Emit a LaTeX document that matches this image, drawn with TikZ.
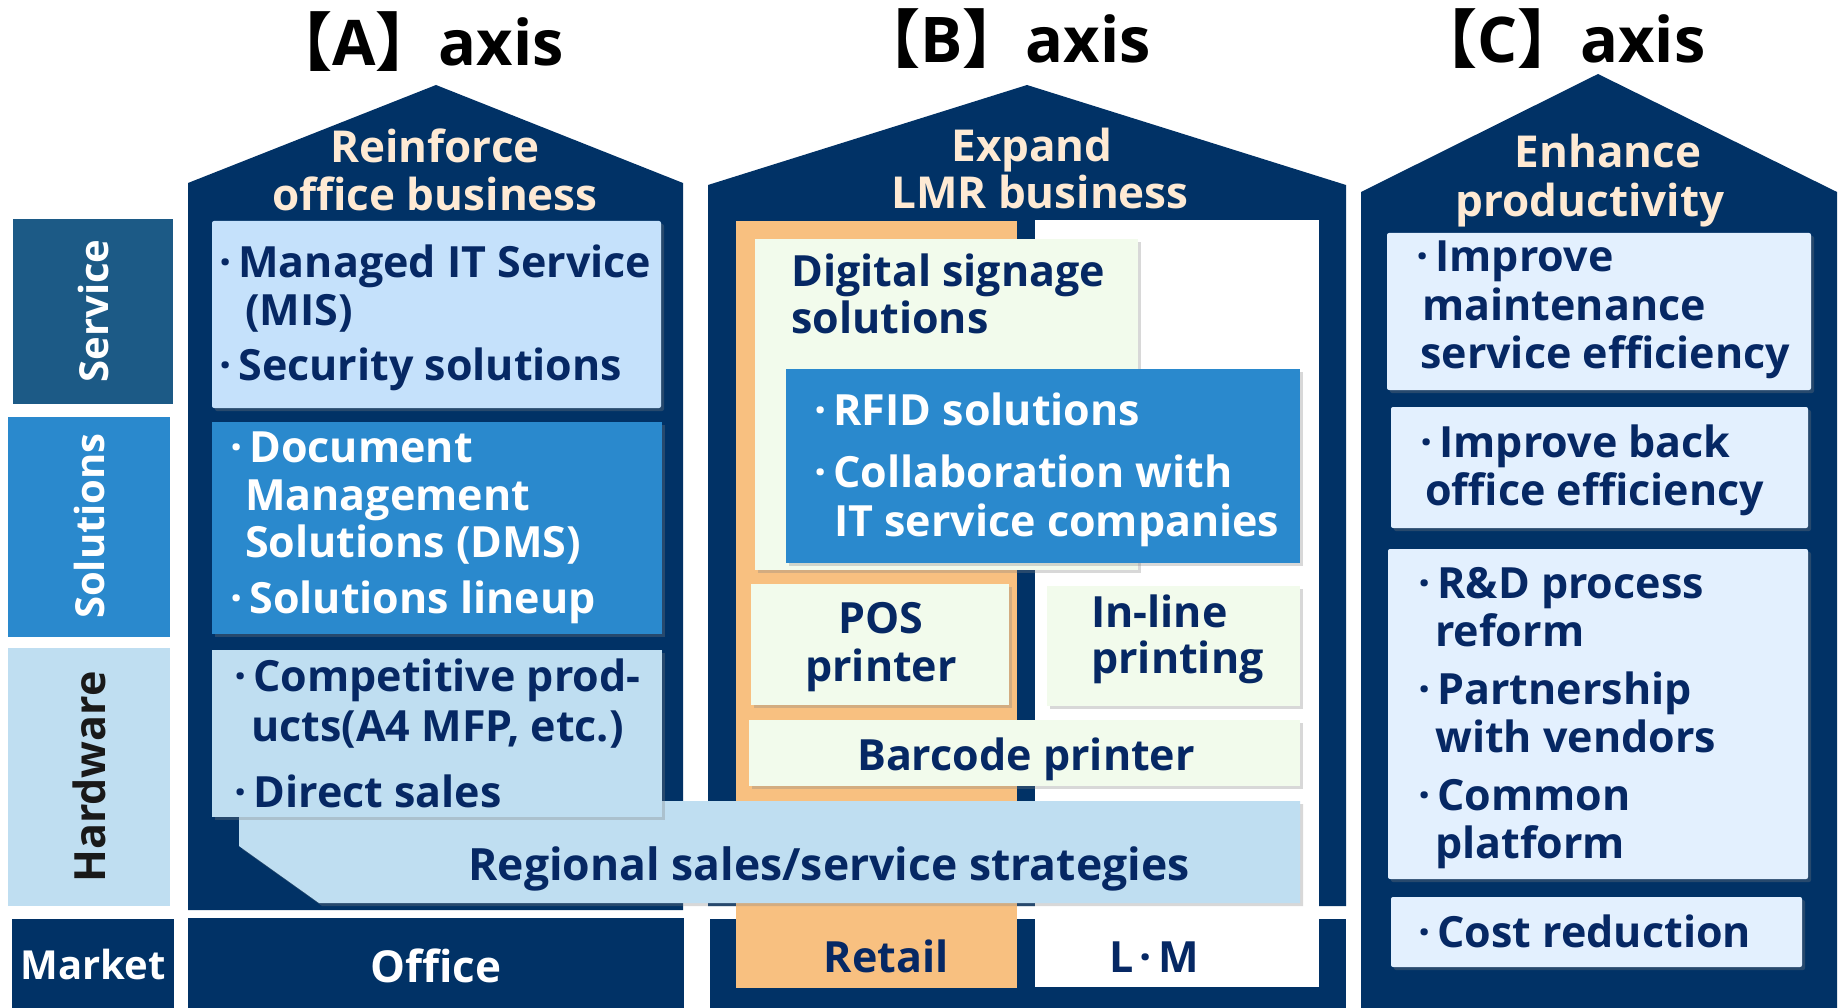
\documentclass[tikz,border=0pt]{standalone}
\usepackage{fontspec}
\setmainfont{Open Sans}
\newfontfamily\cjk{Noto Sans CJK JP}
\usetikzlibrary{shadows}
\definecolor{navy}{RGB}{1,50,102}
\definecolor{cream}{RGB}{254,234,212}
\definecolor{svc}{RGB}{28,90,134}
\definecolor{sol}{RGB}{42,137,205}
\definecolor{hw}{RGB}{191,222,241}
\definecolor{mis}{RGB}{197,225,251}
\definecolor{txn}{RGB}{6,40,100}
\definecolor{orng}{RGB}{248,192,128}
\definecolor{mint}{RGB}{242,251,236}
\definecolor{pale}{RGB}{227,240,254}
\newcommand\dt{·\kern7pt}
\newcommand\brk[1]{{\cjk\bfseries #1}}
\newcommand\ttlx[1]{\brk{【}#1\brk{】}axis}
\begin{document}
\begin{tikzpicture}[x=1pt,y=-1pt,
  shbox/.style={drop shadow={shadow xshift=3pt,shadow yshift=-3pt,opacity=0.3}},
  txt/.style={inner sep=0pt,font=\bfseries\fontsize{43}{50}\selectfont,text=txn,anchor=base west},
  txc/.style={txt,anchor=base},
  txw/.style={txt,text=white},
  hdr/.style={inner sep=0pt,font=\bfseries\fontsize{44}{50}\selectfont,text=cream,anchor=base},
  lab/.style={inner sep=0pt,font=\bfseries\fontsize{40}{48}\selectfont,rotate=90},
  ttl/.style={inner sep=0pt,font=\bfseries\fontsize{63}{70}\selectfont,anchor=base west}]
\useasboundingbox (0,0) rectangle (1841,1008);
\fill[white] (0,0) rectangle (1841,1008);

% titles
\node[ttl] (tA) at (269,66) {\ttlx{A}};
\node[ttl] (tB) at (857,63) {\ttlx{B}};
\node[ttl] (tC) at (1414,63) {\ttlx{C}};

% houses
\fill[navy] (188,910) -- (188,183) -- (436,85) -- (683,183) -- (683,910) -- cycle;
\fill[navy] (188,918) rectangle (684,1008);
\fill[navy] (708,906) -- (708,185) -- (1027,85) -- (1346,185) -- (1346,906) -- cycle;
\fill[navy] (710,919) rectangle (1346,1008);
\fill[orng] (736,221) rectangle (1017,988);
\fill[white] (1035,220) rectangle (1319,987);
\fill[navy] (1361,1008) -- (1361,192) -- (1598,74) -- (1837,192) -- (1837,1008) -- cycle;

% left labels
\fill[svc] (13,219) rectangle (173,404);
\fill[sol] (8,417) rectangle (170,637);
\fill[hw] (8,648) rectangle (170,906);
\fill[navy] (12,919) rectangle (174,1008);
\node[lab,text=white] (lsvc) at (93,311) {Service};
\node[lab,text=white] (lsol) at (89,526) {Solutions};
\node[lab,text=black!90,font=\bfseries\fontsize{43}{48}\selectfont] (lhw) at (89,777) {Hardware};
\node[txc,text=white,font=\bfseries\fontsize{40}{48}\selectfont] (lmk) at (93,979) {Market};

% roof headings
\node[hdr] (hA1) at (435,163) {Reinforce};
\node[hdr] (hA2) at (435,211) {office business};
\node[hdr] (hB1) at (1032,162) {Expand};
\node[hdr] (hB2) at (1040,209) {LMR business};
\node[hdr] (hC1) at (1608,168) {Enhance};
\node[hdr] (hC2) at (1590,217) {productivity};

% B column boxes
\fill[mint,shbox] (755,239) rectangle (1138,570);
\fill[sol,shbox] (786,369) rectangle (1300,563);
\fill[mint,shbox] (751,584) rectangle (1009,705);
\fill[mint,shbox] (1047,586) rectangle (1300,706);
\fill[mint,shbox] (749,720) rectangle (1300,786);

% banner
\fill[hw,shbox] (239,801) -- (1300,801) -- (1300,903) -- (319,903) -- (239,846) -- cycle;

% A column boxes
\fill[mis,shbox,rounded corners=2pt] (212,221) rectangle (661,408);
\fill[sol,shbox] (212,422) rectangle (662,634);
\fill[hw,shbox] (212,650) rectangle (662,817);

% C column boxes
\fill[pale,shbox,rounded corners=2pt] (1387,233) rectangle (1811,390);
\fill[pale,shbox,rounded corners=2pt] (1391,407) rectangle (1808,528);
\fill[pale,shbox,rounded corners=2pt] (1388,549) rectangle (1808,879);
\fill[pale,shbox,rounded corners=2pt] (1391,897) rectangle (1802,967);

% A texts
\node[txt] (a1) at (219,277) {\dt Managed IT Service};
\node[txt] (a2) at (245,325) {(MIS)};
\node[txt] (a3) at (219,380) {\dt Security solutions};
\node[txw] (a4) at (230,462) {\dt Document};
\node[txw] (a5) at (245,510) {Management};
\node[txw] (a6) at (245,557) {Solutions (DMS)};
\node[txw] (a7) at (230,613) {\dt Solutions lineup};
\node[txt] (a8) at (234,691) {\dt Competitive prod-};
\node[txt] (a9) at (251,741) {ucts(A4 MFP, etc.)};
\node[txt] (a10) at (234,807) {\dt Direct sales};
\node[txc,font=\bfseries\fontsize{44.5}{50}\selectfont] (ban) at (829,880) {Regional sales/service strategies};
\node[txc,text=white,font=\bfseries\fontsize{44}{50}\selectfont] (off) at (436,982) {Office};

% B texts
\node[txt] (b1) at (791,287) {Digital signage};
\node[txt] (b2) at (791,333) {solutions};
\node[txw] (b3) at (814,425) {\dt RFID solutions};
\node[txw] (b4) at (814,487) {\dt Collaboration with};
\node[txw] (b5) at (834,536) {IT service companies};
\node[txc] (b6) at (881,633) {POS};
\node[txc] (b7) at (881,681) {printer};
\node[txt] (b8) at (1091,627) {In-line};
\node[txt] (b9) at (1091,673) {printing};
\node[txc] (b10) at (1026,770) {Barcode printer};
\node[txc] (b11) at (886,972) {Retail};
\node[txc] (b12) at (1154,972) {L\kern6pt·\kern6pt M};

% C texts
\node[txt] (c1) at (1416,272) {\dt Improve};
\node[txt] (c2) at (1422,320) {maintenance};
\node[txt] (c3) at (1420,368) {service efficiency};
\node[txt] (c4) at (1420,457) {\dt Improve back};
\node[txt] (c5) at (1425,505) {office efficiency};
\node[txt] (c6) at (1418,598) {\dt R\&D process};
\node[txt] (c7) at (1435,646) {reform};
\node[txt] (c8) at (1418,704) {\dt Partnership};
\node[txt] (c9) at (1435,752) {with vendors};
\node[txt] (c10) at (1418,810) {\dt Common};
\node[txt] (c11) at (1435,858) {platform};
\node[txt] (c12) at (1418,947) {\dt Cost reduction};
\end{tikzpicture}
\end{document}
